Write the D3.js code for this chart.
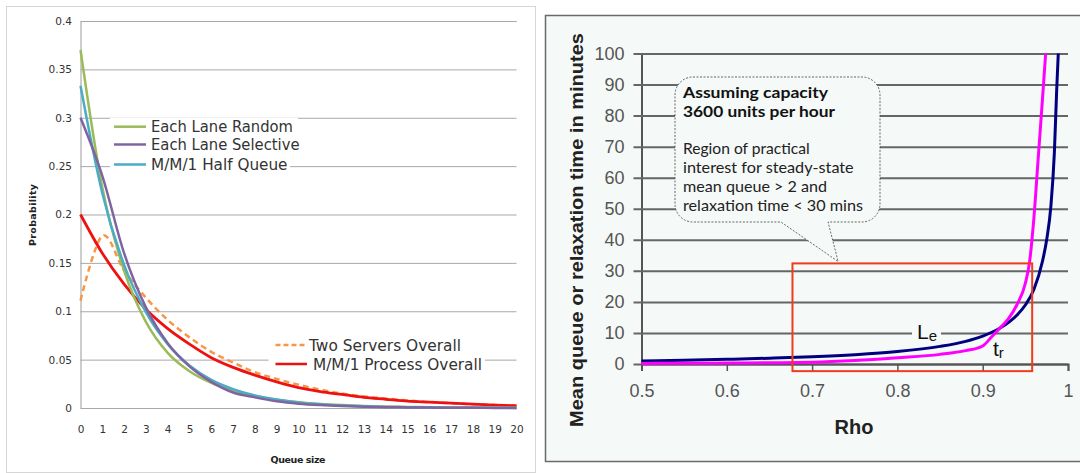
<!DOCTYPE html>
<html><head><meta charset="utf-8">
<script src="https://cdn.jsdelivr.net/npm/d3@7"></script>
<style>body{margin:0;background:#fff;} svg{display:block;}</style>
</head><body>
<svg id="c" width="1080" height="473"></svg>
<script>
// ---------- LEFT CHART DATA ----------
const queueSize = [0,1,2,3,4,5,6,7,8,9,10,11,12,13,14,15,16,17,18,19,20];
const eachLaneRandom    = [0.370,0.228,0.142,0.089,0.057,0.038,0.026,0.018,0.0125,0.0085,0.006,0.0042,0.003,0.0021,0.0015,0.0011,0.0008,0.0006,0.0004,0.0003,0.0002];
const eachLaneSelective = [0.300,0.240,0.160,0.104,0.067,0.043,0.027,0.016,0.011,0.007,0.0045,0.003,0.002,0.0013,0.0009,0.0006,0.0004,0.0003,0.0002,0.0001,0.0001];
const mm1HalfQueue      = [0.333,0.222,0.148,0.099,0.066,0.044,0.029,0.0195,0.013,0.0087,0.0058,0.0039,0.0026,0.0017,0.0011,0.0008,0.0005,0.0003,0.0002,0.0002,0.0001];
const twoServersOverall = [0.111,0.178,0.142,0.114,0.091,0.073,0.058,0.047,0.037,0.030,0.024,0.019,0.015,0.012,0.0098,0.0078,0.0063,0.005,0.004,0.0032,0.0026];
const mm1ProcessOverall = [0.200,0.160,0.128,0.102,0.082,0.066,0.052,0.042,0.034,0.027,0.021,0.017,0.014,0.011,0.009,0.007,0.006,0.005,0.004,0.003,0.0023];
const probTicks  = [0,0.05,0.1,0.15,0.2,0.25,0.3,0.35,0.4];
const probLabels = ["0","0.05","0.1","0.15","0.2","0.25","0.3","0.35","0.4"];

// ---------- RIGHT CHART DATA ----------
const rhoLe     = [0.5,0.55,0.6,0.65,0.7,0.75,0.8,0.85,0.88,0.9,0.92,0.94,0.95,0.96,0.97,0.975,0.98,0.984,0.9867,0.9886];
const meanQueue = [1.0,1.22,1.5,1.86,2.33,3.0,4.0,5.67,7.3,9.0,11.5,15.7,19.0,24.0,33.0,40.0,51.0,68.0,88.0,100];
const rhoTr     = [0.5,0.55,0.6,0.65,0.7,0.75,0.8,0.85,0.88,0.9,0.91,0.92,0.93,0.94,0.95,0.955,0.96,0.965,0.97,0.9738];
const relaxTime = [0.2,0.25,0.3,0.4,0.55,1.1,2.0,3.1,4.3,5.8,8.6,11.5,14.5,19.0,26.0,33.0,47.0,66.0,85.0,100];
const rhoTicks  = [0.5,0.6,0.7,0.8,0.9,1];
const rhoLabels = ["0.5","0.6","0.7","0.8","0.9","1"];
const valTicks  = [0,10,20,30,40,50,60,70,80,90,100];
const regionRho = [0.677,0.958];
const regionVal = [-2.3,32.4];
const calloutBold = ["Assuming capacity","3600 units per hour"];
const calloutText = ["Region of practical","interest for steady-state","mean queue > 2 and","relaxation time < 30 mins"];

const svg = d3.select('#c');

// ================= LEFT PANEL =================
svg.append('rect').attr('x',6.5).attr('y',6.5).attr('width',529).attr('height',466)
  .attr('fill','#fff').attr('stroke','#d6d6d6');

const xL = d3.scaleLinear().domain([0,20]).range([80.5,516.5]);
const yL = d3.scaleLinear().domain([0,0.4]).range([408,21]);
const gL = svg.append('g');

gL.append('g').attr('transform','translate(80.5,0)')
  .call(d3.axisLeft(yL).tickValues(probTicks).tickSize(-436).tickPadding(8.5)
        .tickFormat((d,i)=>probLabels[i]))
  .call(g=>{
    g.select('.domain').attr('stroke','#9a9a9a');
    g.selectAll('.tick line').attr('stroke','#a8a8a8');
    g.selectAll('.tick text').attr('font-family','DejaVu Sans, Verdana, sans-serif')
      .attr('font-size',10.5).attr('fill','#333');
  });
gL.append('g').attr('transform','translate(0,408)')
  .call(d3.axisBottom(xL).tickValues(queueSize).tickSize(0).tickPadding(18))
  .call(g=>{
    g.select('.domain').remove();
    g.selectAll('.tick text').attr('font-family','DejaVu Sans, Verdana, sans-serif')
      .attr('font-size',10.5).attr('fill','#333');
  });

gL.append('text').attr('x',298).attr('y',463).attr('text-anchor','middle')
  .attr('font-family','DejaVu Sans, Verdana, sans-serif').attr('font-weight','bold')
  .attr('font-size',9.5).attr('fill','#222').attr('textLength',55).text('Queue size');
gL.append('text').attr('transform','translate(36,215) rotate(-90)').attr('text-anchor','middle')
  .attr('font-family','DejaVu Sans, Verdana, sans-serif').attr('font-weight','bold')
  .attr('font-size',9.5).attr('fill','#222').attr('textLength',62).text('Probability');

const lineL = d3.line().x((d,i)=>xL(queueSize[i])).y(d=>yL(d)).curve(d3.curveCardinal.tension(0));
const seriesL = [
  {v:twoServersOverall, c:'#f79646', w:2.5, dash:'6,4'},
  {v:mm1ProcessOverall, c:'#ee1111', w:2.8},
  {v:eachLaneRandom,    c:'#9bbb59', w:2.5},
  {v:mm1HalfQueue,      c:'#4bacc6', w:2.5},
  {v:eachLaneSelective, c:'#8064a2', w:2.5},
];
seriesL.forEach(s=>{
  gL.append('path').datum(s.v).attr('d',lineL).attr('fill','none')
    .attr('stroke',s.c).attr('stroke-width',s.w).attr('stroke-dasharray',s.dash||null);
});

// legends (left)
const legFont = 'DejaVu Sans, Verdana, sans-serif';
const legL = [
  {t:'Each Lane Random', c:'#9bbb59', y:126.7, x1:114, x2:146, tx:151, len:142, bg:[110,298]},
  {t:'Each Lane Selective', c:'#8064a2', y:144.5, x1:114, x2:146, tx:151, len:148.5, bg:null},
  {t:'M/M/1 Half Queue', c:'#4bacc6', y:164.5, x1:114, x2:146, tx:151, len:136.5, bg:[110,290]},
  {t:'Two Servers Overall', c:'#f79646', y:345, x1:275.5, x2:305, tx:309, len:152, bg:null, dash:'5,3'},
  {t:'M/M/1 Process Overall', c:'#ee1111', y:364, x1:275.5, x2:307, tx:313, len:169, bg:[268.6,485]},
];
legL.forEach(l=>{
  if(l.bg) gL.append('rect').attr('x',l.bg[0]).attr('y',l.y-9).attr('width',l.bg[1]-l.bg[0]).attr('height',18).attr('fill','#fff');
});
legL.forEach(l=>{
  gL.append('line').attr('x1',l.x1).attr('x2',l.x2).attr('y1',l.y).attr('y2',l.y)
    .attr('stroke',l.c).attr('stroke-width',2.5).attr('stroke-dasharray',l.dash||null);
  gL.append('text').attr('x',l.tx).attr('y',l.y).attr('dy','0.36em')
    .attr('font-family',legFont).attr('font-size',15.5).attr('fill','#333')
    .attr('textLength',l.len).attr('lengthAdjust','spacingAndGlyphs').text(l.t);
});

// ================= RIGHT PANEL =================
const bg = '#f5f9f8';
svg.append('rect').attr('x',545.5).attr('y',15.5).attr('width',560).attr('height',446)
  .attr('fill',bg).attr('stroke','#6a6a6a').attr('stroke-width',1.5);

const xR = d3.scaleLinear().domain([0.5,1]).range([641.5,1068]);
const yR = d3.scaleLinear().domain([0,100]).range([364,53.5]);
const gR = svg.append('g');
const arial = 'Liberation Sans, Arial, sans-serif';

gR.append('g').attr('transform','translate(641.5,0)')
  .call(d3.axisLeft(yR).tickValues(valTicks).tickSizeInner(-426.5).tickSizeOuter(0).tickPadding(17))
  .call(g=>{
    g.select('.domain').attr('stroke','#555').attr('stroke-width',2);
    g.selectAll('.tick line').attr('stroke','#666').attr('stroke-width',2).attr('x1',-8);
    g.selectAll('.tick text').attr('font-family',arial).attr('font-size',18).attr('fill','#555');
  });
gR.append('g').attr('transform','translate(0,364)')
  .call(d3.axisBottom(xR).tickValues(rhoTicks).tickSize(7).tickPadding(13).tickFormat((d,i)=>rhoLabels[i]))
  .call(g=>{
    g.select('.domain').attr('stroke','#555').attr('stroke-width',2);
    g.selectAll('.tick line').attr('stroke','#555').attr('stroke-width',1.5);
    g.selectAll('.tick text').attr('font-family',arial).attr('font-size',18).attr('fill','#555');
  });

gR.append('text').attr('x',854).attr('y',434).attr('text-anchor','middle')
  .attr('font-family',arial).attr('font-weight','bold').attr('font-size',20).attr('fill','#222').text('Rho');
gR.append('text').attr('transform','translate(583,230) rotate(-90)').attr('text-anchor','middle')
  .attr('font-family',arial).attr('font-weight','bold').attr('font-size',19).attr('fill','#222')
  .attr('textLength',394).attr('lengthAdjust','spacingAndGlyphs')
  .text('Mean queue or relaxation time in minutes');

// Le label background (covers gridline)
gR.append('rect').attr('x',912).attr('y',yR(10)-10).attr('width',29).attr('height',20).attr('fill',bg);

const lineLe = d3.line().x((d,i)=>xR(rhoLe[i])).y(d=>yR(d)).curve(d3.curveMonotoneX);
const lineTr = d3.line().x((d,i)=>xR(rhoTr[i])).y(d=>yR(d)).curve(d3.curveMonotoneX);
gR.append('path').datum(meanQueue).attr('d',lineLe).attr('fill','none').attr('stroke','#000080').attr('stroke-width',3);
gR.append('path').datum(relaxTime).attr('d',lineTr).attr('fill','none').attr('stroke','#ff00ff').attr('stroke-width',3);

// region rectangle
gR.append('rect').attr('x',xR(regionRho[0])).attr('y',yR(regionVal[1]))
  .attr('width',xR(regionRho[1])-xR(regionRho[0])).attr('height',yR(regionVal[0])-yR(regionVal[1]))
  .attr('fill','none').attr('stroke','#f03c1e').attr('stroke-width',2);

// labels Le, tr
const le = gR.append('text').attr('x',917).attr('y',339).attr('font-family',arial).attr('font-size',21).attr('fill','#111');
le.append('tspan').text('L');
le.append('tspan').attr('font-size',15).attr('dy',2).text('e');
const tr = gR.append('text').attr('x',993).attr('y',356).attr('font-family',arial).attr('font-size',21).attr('fill','#111');
tr.append('tspan').text('t');
tr.append('tspan').attr('font-size',15).attr('dy',2).text('r');

// callout bubble
const bx0 = 675, bx1 = 880, by0 = 77, by1 = 222, r = 18;
const tip = [xR(0.7305), yR(33)];
const tb0 = xR(0.6635), tb1 = xR(0.7187);
const p = d3.path();
p.moveTo(bx0+r,by0); p.lineTo(bx1-r,by0); p.arcTo(bx1,by0,bx1,by0+r,r);
p.lineTo(bx1,by1-r); p.arcTo(bx1,by1,bx1-r,by1,r);
p.lineTo(tb1,by1); p.lineTo(tip[0],tip[1]); p.lineTo(tb0,by1);
p.lineTo(bx0+r,by1); p.arcTo(bx0,by1,bx0,by1-r,r);
p.lineTo(bx0,by0+r); p.arcTo(bx0,by0,bx0+r,by0,r); p.closePath();
gR.append('path').attr('d',p.toString()).attr('fill',bg).attr('stroke','#444')
  .attr('stroke-width',0.8).attr('stroke-dasharray','2,1.5');

const cFont = 'Lato, Open Sans, sans-serif';
const boldLen = [145,152];
calloutBold.forEach((t,i)=>{
  gR.append('text').attr('x',683).attr('y',98+i*18.5).attr('font-family',cFont).attr('font-weight','bold')
    .attr('font-size',16).attr('fill','#111').attr('textLength',boldLen[i]).attr('lengthAdjust','spacingAndGlyphs').text(t);
});
const txtLen = [126.7,170.7,144,180];
calloutText.forEach((t,i)=>{
  gR.append('text').attr('x',683).attr('y',154+i*18.9).attr('font-family',cFont)
    .attr('font-size',15).attr('fill','#222').attr('textLength',txtLen[i]).attr('lengthAdjust','spacingAndGlyphs').text(t);
});
</script>
</body></html>
